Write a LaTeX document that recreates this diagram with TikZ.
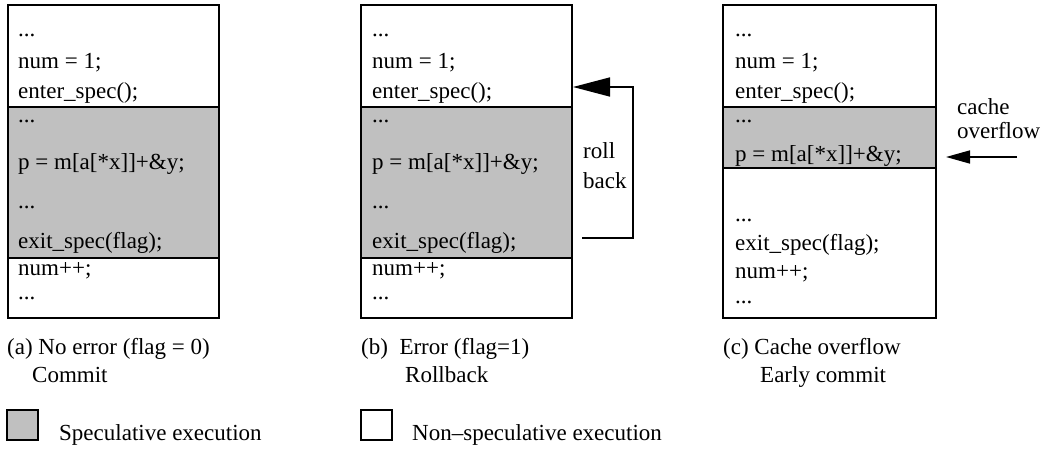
\documentclass[tikz,border=0pt]{standalone}
\usepackage{fontspec}
\setmainfont{Liberation Serif}
\usetikzlibrary{arrows.meta}
\definecolor{specgray}{RGB}{192,192,192}
\begin{document}
\begin{tikzpicture}[x=1pt,y=-1pt,
  code/.style={anchor=base west,inner sep=0pt,font=\fontsize{23}{27}\selectfont},
  frame/.style={draw=black,line width=1.3pt},
  sep/.style={draw=black,line width=1.1pt},
  conn/.style={draw=black,line width=1.6pt}]
\useasboundingbox (0,0) rectangle (1047,449);
% ---------- box (a)
\fill[specgray] (8,107) rectangle (219,258);
\draw[sep] (8,107) -- (219,107) (8,258) -- (219,258);
\draw[frame] (8,5) rectangle (219,318);
\node[code] (a1) at (18,37) {...};
\node[code] (a2) at (18,69) {num = 1;};
\node[code] (a3) at (18,99) {enter\_spec();};
\node[code] (a4) at (18,123) {...};
\node[code] (a5) at (18,170) {p = m[a[*x]]+\&y;};
\node[code] (a6) at (18,209) {...};
\node[code] (a7) at (18,249) {exit\_spec(flag);};
\node[code] (a8) at (18,276) {num++;};
\node[code] (a9) at (18,299) {...};
% ---------- box (b)
\fill[specgray] (361,107) rectangle (572,258);
\draw[sep] (361,107) -- (572,107) (361,258) -- (572,258);
\draw[frame] (361,5) rectangle (572,318);
\node[code] (b1) at (372,37) {...};
\node[code] (b2) at (372,69) {num = 1;};
\node[code] (b3) at (372,99) {enter\_spec();};
\node[code] (b4) at (372,123) {...};
\node[code] (b5) at (372,170) {p = m[a[*x]]+\&y;};
\node[code] (b6) at (372,209) {...};
\node[code] (b7) at (372,249) {exit\_spec(flag);};
\node[code] (b8) at (372,276) {num++;};
\node[code] (b9) at (372,299) {...};
\node[code] (roll) at (583,159) {roll};
\node[code] (back) at (583,189) {back};
\coordinate (rbstart) at (582,238);
\coordinate (rbend) at (573,87);
\draw[conn,-{Triangle[length=37pt,width=19pt]}] (rbstart) -- (633,238) -- (633,87) -- (rbend);
% ---------- box (c)
\fill[specgray] (723,107) rectangle (936,168);
\draw[sep] (723,107) -- (936,107) (723,168) -- (936,168);
\draw[frame] (723,5) rectangle (936,318);
\node[code] (c1) at (735,37) {...};
\node[code] (c2) at (735,69) {num = 1;};
\node[code] (c3) at (735,99) {enter\_spec();};
\node[code] (c4) at (735,123) {...};
\node[code] (c5) at (735,162) {p = m[a[*x]]+\&y;};
\node[code] (c6) at (735,222) {...};
\node[code] (c7) at (735,251) {exit\_spec(flag);};
\node[code] (c8) at (735,279) {num++;};
\node[code] (c9) at (735,303) {...};
\node[code] (cache) at (957,115) {cache};
\node[code] (ovf) at (957,139) {overflow};
\coordinate (costart) at (1017,157);
\coordinate (coend) at (946,157);
\draw[conn,-{Triangle[length=24pt,width=13pt]}] (costart) -- (coend);
% ---------- captions
\node[code] (capa1) at (7,354) {(a) No error (flag = 0)};
\node[code] (capa2) at (32,382) {Commit};
\node[code] (capb1) at (361,354) {(b)\ \ Error (flag=1)};
\node[code] (capb2) at (405,382) {Rollback};
\node[code] (capc1) at (723,354) {(c) Cache overflow};
\node[code] (capc2) at (760,382) {Early commit};
% ---------- legend
\draw[sep,fill=specgray] (7,410) rectangle (38,440);
\node[code] (leg1) at (59,440) {Speculative execution};
\draw[sep,fill=white] (361,410) rectangle (392,440);
\node[code] (leg2) at (412,440) {Non\textendash speculative execution};
\end{tikzpicture}
\end{document}
